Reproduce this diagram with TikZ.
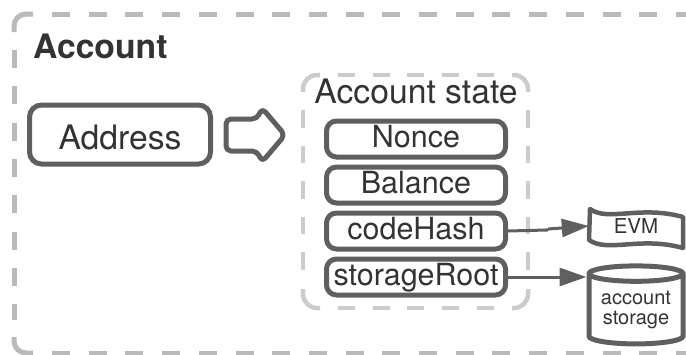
\documentclass[tikz,border=0pt]{standalone}
\usepackage{fontspec}
\setmainfont{TeX Gyre Heros}
\usetikzlibrary{shapes.geometric, arrows.meta, positioning}
\definecolor{edgegray}{HTML}{5F5F5F}
\definecolor{textgray}{HTML}{333333}
\tikzset{
  fieldbox/.style={draw=edgegray, line width=5pt, rounded corners=10pt, minimum width=179pt, minimum height=36pt, inner sep=0pt, text=textgray, text height=20pt, text depth=4pt, font=\fontsize{30.5}{30.5}\selectfont},
  link/.style={draw=edgegray, line width=3pt, -{Triangle[length=27pt,width=18pt]}},
  outerframe/.style={draw=black!27, line width=5pt, rounded corners=12pt},
  innerframe/.style={draw=black!20, line width=4.5pt, rounded corners=14pt}
}
\begin{document}
\begin{tikzpicture}[x=1pt, y=-1pt]
\useasboundingbox (0,0) rectangle (686,354);

% Dashed frames
\begin{scope}
\clip (0,0) rectangle (686,354);
\draw[outerframe, dash pattern=on 18pt off 18.7pt] (52,14) -- (720,14) (52,353) -- (720,353);
\draw[outerframe, dash pattern=on 18pt off 18.3pt] (14,50) -- (14,320);
\draw[outerframe] (33,14) -- (14,14) -- (14,32) (14,337) -- (14,353) -- (33,353);
\end{scope}
\draw[innerframe, dash pattern=on 17pt off 17.7pt] (338,75) -- (495,75) (338,308) -- (495,308);
\draw[innerframe, dash pattern=on 17.5pt off 18pt] (303,110) -- (303,272) (528,110) -- (528,272);
\draw[innerframe] (303,92) -- (303,75) -- (320,75) (512,75) -- (528,75) -- (528,92) (528,289) -- (528,308) -- (512,308) (320,308) -- (303,308) -- (303,289);

% Titles
\node[font=\bfseries\fontsize{33.7}{33.7}\selectfont, text=textgray, anchor=base west, inner sep=0pt] (account) at (33,58) {Account};
\node[font=\fontsize{33.7}{33.7}\selectfont, text=textgray, anchor=base, inner sep=0pt] (state) at (416,103) {Account state};

% Address and block arrow
\node[draw=edgegray, line width=5pt, rounded corners=12pt, minimum width=181pt, minimum height=59pt, inner sep=0pt, text=textgray, text height=33pt, text depth=4pt, font=\fontsize{33.7}{33.7}\selectfont] (address) at (120,134.5) {Address};
\draw[draw=edgegray, line width=5pt, line join=round, rounded corners=5pt] (226,135) -- (226,119) -- (257,119) -- (262,108) -- (285,135) -- (262,162) -- (257,151) -- (226,151) -- cycle;

% Fields
\node[fieldbox] (nonce) at (416,139) {Nonce};
\node[fieldbox] (balance) at (416,185) {Balance};
\node[fieldbox] (codehash) at (416,231) {codeHash};
\node[fieldbox] (storageroot) at (416,277) {storageRoot};

% EVM banner
\node[minimum width=94pt, minimum height=36pt, inner sep=0pt, text=textgray, text height=14pt, text depth=0pt, font=\fontsize{20.5}{20.5}\selectfont] (evm) at (636,226) {EVM};
\draw[draw=edgegray, line width=4.5pt, line join=round] (590,209) .. controls (608,222) and (640,205) .. (683,217) -- (683,248) .. controls (640,236) and (608,253) .. (589,240) -- cycle;

% Storage cylinder
\node[draw=edgegray, line width=5pt, shape=cylinder, shape border rotate=90, aspect=0.22, minimum width=94pt, minimum height=78pt, inner sep=0pt, align=center, text=textgray, font=\fontsize{20}{19.5}\selectfont] (storage) at (636,310) {account\\storage};

% Connectors
\coordinate (jog) at (548,229);
\draw[draw=edgegray, line width=3pt] (codehash.east) -- (547,230) -- (jog);
\draw[link] (jog) -- (evm.west);
\draw[link] (storageroot.east) -- (storage.west |- storageroot.east);
\end{tikzpicture}
\end{document}
